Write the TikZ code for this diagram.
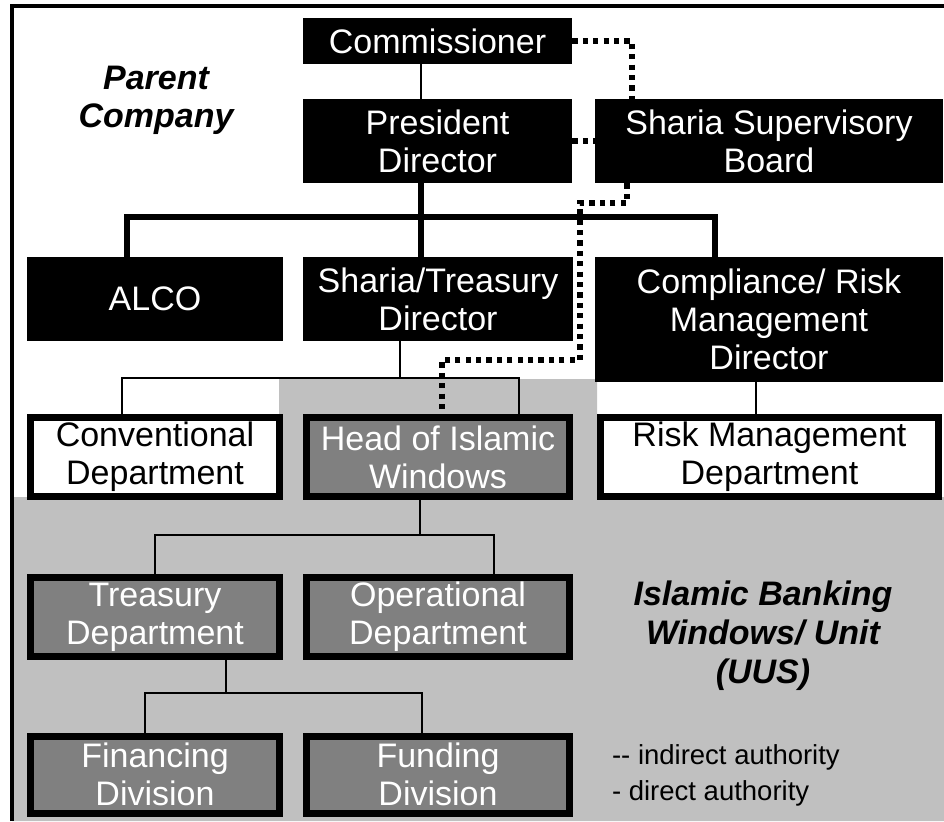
\documentclass[tikz,border=0pt]{standalone}
\usepackage{fontspec}
\setmainfont{Liberation Sans}
\usepackage{tikz}
\usetikzlibrary{calc}

\definecolor{unitgrey}{HTML}{C0C0C0}
\definecolor{boxgrey}{HTML}{808080}

\begin{document}
\begin{tikzpicture}[x=0.5pt,y=-0.5pt,
	font=\fontsize{17pt}{19pt}\selectfont,
	blackbox/.style={fill=black,text=white,inner sep=0pt,align=center},
	whitebox/.style={draw=black,line width=3.5pt,fill=white,text=black,inner sep=0pt,align=center},
	greybox/.style={draw=black,line width=3.5pt,fill=boxgrey,text=white,inner sep=0pt,align=center},
	thin line/.style={line width=1pt},
	bar line/.style={line width=3pt},
	dot line/.style={line width=2.6pt,dash pattern=on 2.6pt off 2.6pt}]
		\useasboundingbox (0,0) rectangle (944,821);
		% grey area of the islamic unit
		\fill[unitgrey] (279,379) -- (597,379) -- (597,497) -- (944,497)
			-- (944,821) -- (12,821) -- (12,497) -- (279,497) -- cycle;
		\draw[line width=2pt] (12,821) -- (12,6) -- (944,6);
		%
		\node[font=\fontsize{17pt}{19pt}\selectfont\bfseries\itshape,align=center] (parent) at (156,100) {Parent\\Company};
		\node[font=\fontsize{17pt}{19.5pt}\selectfont\bfseries\itshape,align=center] (uus) at (763,636) {Islamic Banking\\Windows/ Unit\\(UUS)};
		\node[font=\fontsize{13.75pt}{18pt}\selectfont,anchor=west,align=left] (legend) at (605,775) {-{}- indirect authority\\- direct authority};
		%
		\coordinate (pcol) at (421,0);
		\coordinate (barL) at (127,217);
		\coordinate (barR) at (715,217);
		\coordinate (sdrop) at (400,378);
		\coordinate (sL) at (122,378);
		\coordinate (sR) at (519,378);
		\coordinate (rcol) at (756,0);
		\coordinate (hdrop) at (420,535);
		\coordinate (hL) at (155,535);
		\coordinate (hR) at (494,535);
		\coordinate (tdrop) at (226,693);
		\coordinate (tL) at (145,693);
		\coordinate (tR) at (422,693);
		\coordinate (d1) at (632,0);
		\coordinate (d2) at (627,203);
		\coordinate (d3) at (580,203);
		\coordinate (d4) at (580,360);
		\coordinate (d5) at (442,360);
		%
		\node[blackbox,minimum width=134.5pt,minimum height=23pt] (comm) at (437.5,41) {Commissioner};
		\node[blackbox,minimum width=134.5pt,minimum height=42pt] (pres) at (437.5,141) {President\\Director};
		\node[blackbox,minimum width=174pt,minimum height=42pt] (ssb) at (769,141) {Sharia Supervisory\\Board};
		\node[blackbox,minimum width=128pt,minimum height=42pt] (alco) at (155,299) {ALCO};
		\node[blackbox,minimum width=135pt,minimum height=42pt] (std) at (438,299) {Sharia/Treasury\\Director};
		\node[blackbox,minimum width=174pt,minimum height=62.5pt] (crm) at (769,319.5) {Compliance/ Risk\\Management\\Director};
		\node[whitebox,minimum width=124.5pt,minimum height=39.5pt] (conv) at (155,457) {Conventional\\Department};
		\node[greybox,minimum width=131.5pt,minimum height=39.5pt] (head) at (438,457) {Head of Islamic\\Windows};
		\node[whitebox,minimum width=169pt,minimum height=39.5pt] (risk) at (769.5,457) {Risk Management\\Department};
		\node[greybox,minimum width=124.5pt,minimum height=39.5pt] (treas) at (155,617) {Treasury\\Department};
		\node[greybox,minimum width=131.5pt,minimum height=39.5pt] (oper) at (438,617) {Operational\\Department};
		\node[greybox,minimum width=124.5pt,minimum height=38.5pt] (fin) at (155,774.5) {Financing\\Division};
		\node[greybox,minimum width=131.5pt,minimum height=38.5pt] (fund) at (438,774.5) {Funding\\Division};
		%
		\draw[thin line] (comm.south -| pcol) -- (pres.north -| pcol);
		\draw[bar line] (pres.south -| pcol) -- (std.north -| pcol);
		\draw[bar line] (alco.north -| barL) -- (barL) -- (barR) -- (crm.north -| barR);
		\draw[thin line] (std.south -| sdrop) -- (sdrop);
		\draw[thin line] (conv.north -| sL) -- (sL) -- (sR) -- (head.north -| sR);
		\draw[thin line] (crm.south -| rcol) -- (risk.north -| rcol);
		\draw[thin line] (head.south -| hdrop) -- (hdrop);
		\draw[thin line] (treas.north -| hL) -- (hL) -- (hR) -- (oper.north -| hR);
		\draw[thin line] (treas.south -| tdrop) -- (tdrop);
		\draw[thin line] (fin.north -| tL) -- (tL) -- (tR) -- (fund.north -| tR);
		%
		\draw[dot line] (comm.east) -| (ssb.north -| d1);
		\draw[dot line] (pres.east) -- (ssb.west);
		\draw[dot line] (ssb.south -| d2) -- (d2) -- (d3) -- (d4) -- (d5) -- (head.north -| d5);
\end{tikzpicture}
\end{document}
